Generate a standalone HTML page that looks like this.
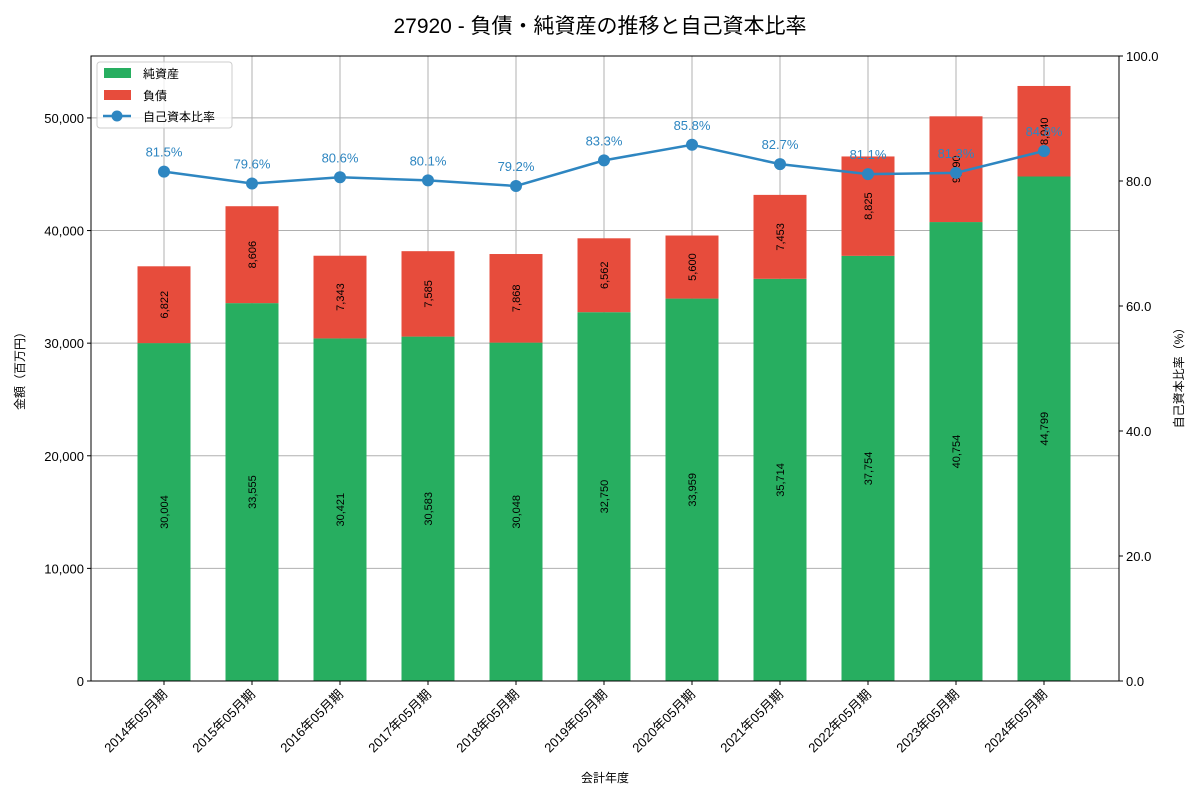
<!DOCTYPE html>
<html><head><meta charset="utf-8"><style>
body{margin:0;background:#fff;}
svg{display:block;font-family:"Liberation Sans","Noto Sans CJK JP",sans-serif;}
</style></head><body>
<svg id="c" width="1200" height="800"></svg>
<script>
const categories=["2014年05月期","2015年05月期","2016年05月期","2017年05月期","2018年05月期","2019年05月期","2020年05月期","2021年05月期","2022年05月期","2023年05月期","2024年05月期"];
const netAssets=[30004,33555,30421,30583,30048,32750,33959,35714,37754,40754,44799];
const liabilities=[6822,8606,7343,7585,7868,6562,5600,7453,8825,9390,8040];
const equityRatio=[81.5,79.6,80.6,80.1,79.2,83.3,85.8,82.7,81.1,81.3,84.8];
const leftTicks=[0,10000,20000,30000,40000,50000];
const rightTicks=[0,20,40,60,80,100];

const L=91,R=1119,T=56,B=681,yMax=55500;
const NS="http://www.w3.org/2000/svg";
const svg=document.getElementById('c');
function mk(tag,attrs,parent,text){const e=document.createElementNS(NS,tag);for(const k in attrs)e.setAttribute(k,attrs[k]);if(text!==undefined)e.textContent=text;(parent||svg).appendChild(e);return e;}
const x=i=>L+73+i*88;
const yl=v=>B-(v/yMax)*(B-T);
const yr=v=>B-(v/100)*(B-T);
const bw=53;

// grid
categories.forEach((c,i)=>{const g=mk('line',{x1:x(i),x2:x(i),y1:T,y2:B,stroke:'#b0b0b0','stroke-width':1});

});
leftTicks.forEach(v=>{const g=mk('line',{x1:L,x2:R,y1:yl(v),y2:yl(v),stroke:'#b0b0b0','stroke-width':1});

});

// bars
categories.forEach((c,i)=>{
  const g=mk('rect',{x:x(i)-bw/2,y:yl(netAssets[i]),width:bw,height:yl(0)-yl(netAssets[i]),fill:'#27ae60'});
  
  
  const r=mk('rect',{x:x(i)-bw/2,y:yl(netAssets[i]+liabilities[i]),width:bw,height:yl(netAssets[i])-yl(netAssets[i]+liabilities[i]),fill:'#e74c3c'});
  
  
  const cy1=(yl(0)+yl(netAssets[i]))/2;
  const t1=mk('text',{x:x(i)+4,y:cy1,'font-size':11,'text-anchor':'middle',transform:`rotate(-90 ${x(i)+4} ${cy1})`},svg,netAssets[i].toLocaleString('en-US'));
  
  
  const cy2=(yl(netAssets[i])+yl(netAssets[i]+liabilities[i]))/2;
  const t2=mk('text',{x:x(i)+4,y:cy2,'font-size':11,'text-anchor':'middle',transform:`rotate(-90 ${x(i)+4} ${cy2})`},svg,liabilities[i].toLocaleString('en-US'));
  
  
});

// line
const pts=equityRatio.map((v,i)=>x(i)+','+yr(v)).join(' ');
const pl=mk('polyline',{points:pts,fill:'none',stroke:'#2e86c1','stroke-width':2.5});


equityRatio.forEach((v,i)=>{
  const c=mk('circle',{cx:x(i),cy:yr(v),r:6,fill:'#2e86c1'});
  
  
  const t=mk('text',{x:x(i),y:yr(v)-15,'font-size':13,fill:'#2e86c1','text-anchor':'middle'},svg,v.toFixed(1)+'%');
  
  
});

// axes frame
const fr=mk('rect',{x:L,y:T,width:R-L,height:B-T,fill:'none',stroke:'#000','stroke-width':1});



leftTicks.forEach(v=>{
  mk('line',{x1:L-4,x2:L,y1:yl(v),y2:yl(v),stroke:'#000'});
  const t=mk('text',{x:L-7,y:yl(v)+5,'font-size':13,'text-anchor':'end'},svg,v.toLocaleString('en-US'));
  
  
});
rightTicks.forEach(v=>{
  mk('line',{x1:R,x2:R+4,y1:yr(v),y2:yr(v),stroke:'#000'});
  const t=mk('text',{x:R+7,y:yr(v)+5,'font-size':13},svg,v.toFixed(1));
  
  
});
categories.forEach((c,i)=>{
  mk('line',{x1:x(i),x2:x(i),y1:B,y2:B+4,stroke:'#000'});
  const tx=x(i)+4,ty=B+14;
  const t=mk('text',{x:tx,y:ty,'font-size':13,'text-anchor':'end',transform:`rotate(-45 ${tx} ${ty})`},svg,c);
  
  
});

const tt=mk('text',{x:600,y:33,'font-size':21,'text-anchor':'middle'},svg,'27920 - 負債・純資産の推移と自己資本比率');


const xt=mk('text',{x:605,y:782,'font-size':12,'text-anchor':'middle'},svg,'会計年度');


const ylt=mk('text',{x:24,y:368,'font-size':12,'text-anchor':'middle',transform:'rotate(-90 24 368)'},svg,'金額（百万円）');


const yrt=mk('text',{x:1183,y:375,'font-size':12,'text-anchor':'middle',transform:'rotate(-90 1183 375)'},svg,'自己資本比率（%）');



// legend
const lg=mk('g',{});


mk('rect',{x:97,y:62,width:135,height:66,rx:3,fill:'#fff','fill-opacity':0.8,stroke:'#ccc'},lg);
mk('rect',{x:104,y:68,width:27,height:10,fill:'#27ae60'},lg);
mk('text',{x:143,y:78,'font-size':12},lg,'純資産');
mk('rect',{x:104,y:90,width:27,height:10,fill:'#e74c3c'},lg);
mk('text',{x:143,y:100,'font-size':12},lg,'負債');
mk('line',{x1:103,x2:131,y1:116,y2:116,stroke:'#2e86c1','stroke-width':2.5},lg);
mk('circle',{cx:117,cy:116,r:5.5,fill:'#2e86c1'},lg);
mk('text',{x:143,y:121,'font-size':12},lg,'自己資本比率');
</script>
</body></html>
